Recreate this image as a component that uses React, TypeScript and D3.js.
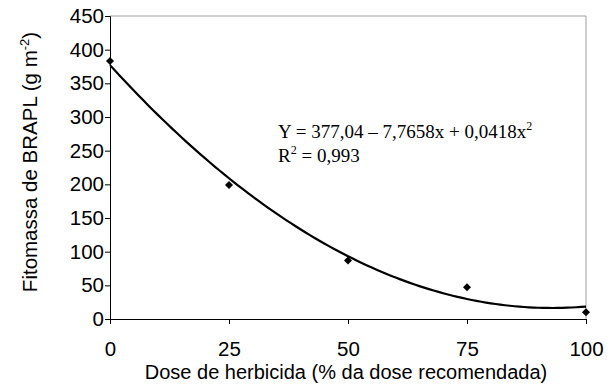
import React, { useEffect, useRef } from 'react';
import * as d3 from 'd3';

// observed points (dose % vs fitomassa g m-2)
const doses = [0, 25, 50, 75, 100];
const fitomassa = [383, 199, 87, 47, 10];

// quadratic trendline as printed on the chart
const trendCoef = [377.04, -7.7658, 0.0418];

const xTicks = [0, 25, 50, 75, 100];
const yTicks = [0, 50, 100, 150, 200, 250, 300, 350, 400, 450];

const App = () => {
  const svgRef = useRef<SVGSVGElement>(null);

  useEffect(() => {
    const svg = d3.select(svgRef.current);
    svg.selectAll('*').remove();

    const left = 110, right = 586, top = 16, bottom = 319;
    const sans = 'Liberation Sans, Arial, sans-serif';
    const serif = 'Liberation Serif, Times New Roman, serif';

    const x = d3.scaleLinear().domain([0, 100]).range([left, right]);
    const y = d3.scaleLinear().domain([0, 450]).range([bottom, top]);

    // gray frame top/right
    svg.append('path')
      .attr('d', `M${left},${top}H${right}V${bottom}`)
      .attr('fill', 'none')
      .attr('stroke', '#a0a0a0')
      .attr('stroke-width', 1);

    const yAxis = svg.append('g')
      .attr('transform', `translate(${left},0)`)
      .call(d3.axisLeft(y).tickValues(yTicks).tickSize(5).tickPadding(1).tickFormat(d3.format('d')));
    yAxis.select('.domain').attr('stroke', '#000');
    yAxis.selectAll('text').attr('font-family', sans).attr('font-size', 20.5).attr('fill', '#000');

    const xAxis = svg.append('g')
      .attr('transform', `translate(0,${bottom})`)
      .call(d3.axisBottom(x).tickValues(xTicks).tickSize(5).tickPadding(17).tickFormat(d3.format('d')));
    xAxis.select('.domain').attr('stroke', '#000');
    xAxis.selectAll('text').attr('font-family', sans).attr('font-size', 20.5).attr('fill', '#000');

    // trendline
    const trendX = d3.range(0, 100.01, 1);
    const line = d3.line<number>()
      .x(d => x(d))
      .y(d => y(trendCoef[0] + trendCoef[1] * d + trendCoef[2] * d * d));
    svg.append('path')
      .datum(trendX)
      .attr('fill', 'none')
      .attr('stroke', '#000')
      .attr('stroke-width', 2.2)
      .attr('d', line);

    // markers
    svg.append('g')
      .selectAll('path')
      .data(doses)
      .join('path')
      .attr('transform', (d, i) => `translate(${x(d)},${y(fitomassa[i])})`)
      .attr('d', 'M0,-4L4,0L0,4L-4,0Z')
      .attr('fill', '#000');

    // equation
    const eq = svg.append('text')
      .attr('x', 278).attr('y', 138)
      .attr('font-family', serif).attr('font-size', 19);
    eq.append('tspan').text('Y = 377,04 \u2013 7,7658x + 0,0418x');
    eq.append('tspan').attr('dy', -8).attr('font-size', 12).text('2');

    const r2 = svg.append('text')
      .attr('x', 278).attr('y', 162)
      .attr('font-family', serif).attr('font-size', 19);
    r2.append('tspan').text('R');
    r2.append('tspan').attr('dy', -8).attr('font-size', 12).text('2');
    r2.append('tspan').attr('dy', 8).text(' = 0,993');

    // axis titles
    svg.append('text')
      .attr('x', 346).attr('y', 379)
      .attr('text-anchor', 'middle')
      .attr('font-family', sans).attr('font-size', 20)
      .text('Dose de herbicida (% da dose recomendada)');

    const yl = svg.append('text')
      .attr('transform', 'translate(37,162) rotate(-90)')
      .attr('text-anchor', 'middle')
      .attr('font-family', sans).attr('font-size', 20.5);
    yl.append('tspan').text('Fitomassa de BRAPL (g m');
    yl.append('tspan').attr('dy', -8).attr('font-size', 13).text('-2');
    yl.append('tspan').attr('dy', 8).text(')');
  }, []);

  return (
    <svg
      ref={svgRef}
      width={612}
      height={385}
      style={{ position: 'absolute', left: 0, top: 0, background: '#fff' }}
    />
  );
};

export default App;
